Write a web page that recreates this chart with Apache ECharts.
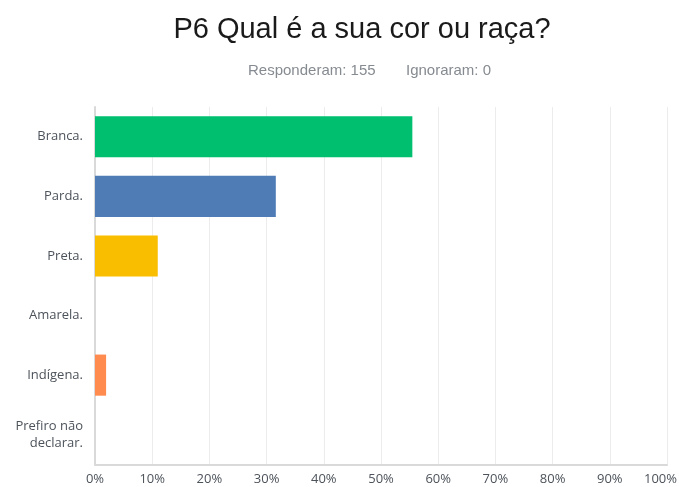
<!DOCTYPE html>
<html><head><meta charset="utf-8">
<script src="https://cdn.jsdelivr.net/npm/echarts@6/dist/echarts.min.js"></script>
<style>html,body{margin:0;padding:0;background:#fff}#c{width:679px;height:487px}</style>
</head><body><div id="c"></div>
<script>
const categories = ["Branca.", "Parda.", "Preta.", "Amarela.", "Indígena.", "Prefiro não\ndeclarar."];
const values = [55.48, 31.61, 10.97, 0, 1.94, 0];
const colors = ["#00BF6F", "#507CB6", "#F9BE00", "#6BC8CD", "#FF8B4F", "#7FA8D1"];
const xTicks = [0, 10, 20, 30, 40, 50, 60, 70, 80, 90, 100];

const chart = echarts.init(document.getElementById('c'));
chart.setOption({
  animation: false,
  title: [
    {text: 'P6 Qual é a sua cor ou raça?', left: 357, top: 10, textAlign: 'center',
     textStyle: {fontFamily: 'Liberation Sans', fontSize: 29, fontWeight: 'normal', color: '#1a1a1a'}},
    {text: 'Responderam: 155', left: 243, top: 58,
     textStyle: {fontFamily: 'Liberation Sans', fontSize: 15, fontWeight: 'normal', color: '#868b91'}},
    {text: 'Ignoraram: 0', left: 401, top: 58,
     textStyle: {fontFamily: 'Liberation Sans', fontSize: 15, fontWeight: 'normal', color: '#868b91'}}
  ],
  grid: {left: 95, right: 12, top: 107, bottom: 22.5, containLabel: false, outerBoundsMode: 'none'},
  xAxis: {
    type: 'value', min: 0, max: 100, interval: 10,
    axisLine: {show: true, lineStyle: {color: '#d9d9d9', width: 2}},
    axisTick: {show: false},
    splitLine: {lineStyle: {color: '#ececec', width: 1}},
    axisLabel: {
      formatter: v => v === 100 ? '{last|' + v + '%}' : v + '%',
      color: '#4d535b', fontFamily: 'Open Sans', fontSize: 13, margin: 8,
      rich: {last: {color: '#4d535b', fontFamily: 'Open Sans', fontSize: 13, padding: [0, 13, 0, 0]}}
    }
  },
  yAxis: {
    type: 'category', data: categories, inverse: true,
    axisLine: {show: true, lineStyle: {color: '#d9d9d9', width: 2}},
    axisTick: {show: false},
    axisLabel: {color: '#4d535b', fontFamily: 'Open Sans', fontSize: 13, margin: 12, lineHeight: 17}
  },
  series: [{
    type: 'bar', barCategoryGap: '31%',
    data: values.map((v, i) => ({value: v, itemStyle: {color: colors[i]}}))
  }]
});
</script></body></html>
